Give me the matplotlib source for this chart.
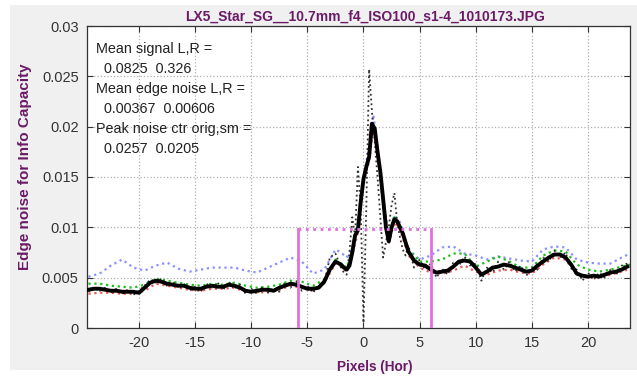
import numpy as np
import matplotlib
matplotlib.use("Agg")
import matplotlib.pyplot as plt
from matplotlib.patches import Rectangle

plt.rcParams['font.family'] = ['Liberation Sans', 'DejaVu Sans']

# ---------------- data ----------------
title = "LX5_Star_SG__10.7mm_f4_ISO100_s1-4_1010173.JPG"
xlabel = "Pixels (Hor)"
ylabel = "Edge noise for Info Capacity"
info_lines = ["Mean signal L,R =", "  0.0825  0.326",
              "Mean edge noise L,R =", "  0.00367  0.00606",
              "Peak noise ctr orig,sm =", "  0.0257  0.0205"]

# pixel positions for smoothed / original curves
x_fine = list(np.arange(-24.5, -1.9, 0.5)) + list(np.arange(-1.75, 3.8, 0.25)) + list(np.arange(4.0, 23.6, 0.5))

smoothed = [
    0.0038, 0.0039, 0.0039, 0.0038, 0.0037, 0.0037, 0.0036, 0.0036, 0.0036, 0.0035,
    0.0040, 0.0045, 0.0047, 0.0046, 0.0044, 0.0043, 0.0042, 0.0042, 0.0040, 0.0039,
    0.0039, 0.0041, 0.0042, 0.0041, 0.0041, 0.0043, 0.0042, 0.0040, 0.0037, 0.0036,
    0.0037, 0.0038, 0.0038, 0.0037, 0.0040, 0.0042, 0.0044, 0.0043, 0.0041, 0.0039,
    0.0039, 0.0040, 0.0046, 0.0058, 0.0066, 0.0063,
    0.0060, 0.0058, 0.0062, 0.0075, 0.0092, 0.0097, 0.0125, 0.0148, 0.0160, 0.0170,
    0.0203, 0.0198, 0.0175, 0.0155, 0.0128, 0.0100, 0.0086, 0.0100, 0.0108, 0.0106,
    0.0100, 0.0094, 0.0085,
    0.0076, 0.0067, 0.0063, 0.0062, 0.0058, 0.0055, 0.0056, 0.0057, 0.0061, 0.0066,
    0.0067, 0.0066, 0.0060, 0.0053, 0.0056, 0.0060, 0.0061, 0.0063, 0.0062, 0.0060,
    0.0058, 0.0056, 0.0057, 0.0062, 0.0066, 0.0070, 0.0073, 0.0073, 0.0070, 0.0063,
    0.0054, 0.0052, 0.0051, 0.0052, 0.0051, 0.0053, 0.0055, 0.0056, 0.0058, 0.0061,
]

original = [
    0.0036, 0.0041, 0.0037, 0.0040, 0.0035, 0.0039, 0.0034, 0.0038, 0.0033, 0.0037,
    0.0042, 0.0048, 0.0045, 0.0049, 0.0042, 0.0046, 0.0040, 0.0044, 0.0037, 0.0041,
    0.0036, 0.0044, 0.0040, 0.0045, 0.0038, 0.0046, 0.0039, 0.0043, 0.0034, 0.0039,
    0.0034, 0.0041, 0.0035, 0.0040, 0.0036, 0.0045, 0.0040, 0.0047, 0.0037, 0.0042,
    0.0035, 0.0043, 0.0044, 0.0070, 0.0074, 0.0060,
    0.0055, 0.0053, 0.0075, 0.0110, 0.0090, 0.0160, 0.0120, 0.0005, 0.0120, 0.0257,
    0.0215, 0.0185, 0.0150, 0.0110, 0.0070, 0.0085, 0.0100, 0.0122, 0.0134, 0.0105,
    0.0090, 0.0078, 0.0072,
    0.0082, 0.0060, 0.0068, 0.0058, 0.0064, 0.0050, 0.0059, 0.0053, 0.0065, 0.0062,
    0.0071, 0.0062, 0.0064, 0.0047, 0.0060, 0.0055, 0.0066, 0.0058, 0.0066, 0.0056,
    0.0062, 0.0052, 0.0060, 0.0058, 0.0070, 0.0066, 0.0077, 0.0070, 0.0075, 0.0059,
    0.0058, 0.0047, 0.0055, 0.0048, 0.0055, 0.0050, 0.0058, 0.0053, 0.0062, 0.0064,
]

# pixel positions for the coloured channel curves
x_chan = (list(np.arange(-24.5, -2.4, 1.0))
          + [-2.0, -1.5, -1.0, -0.5, 0.0, 0.5, 0.875, 1.25, 1.75, 2.25, 2.75, 3.25]
          + list(np.arange(4.0, 23.1, 1.0)) + [23.75])

blue = [
    0.0051, 0.0054, 0.0062, 0.0068, 0.0060, 0.0057, 0.0062, 0.0065, 0.0059, 0.0056,
    0.0058, 0.0060, 0.0060, 0.0060, 0.0057, 0.0055, 0.0060, 0.0065, 0.0070, 0.0066,
    0.0054, 0.0058, 0.0078,
    0.0075, 0.0070, 0.0080, 0.0105, 0.0150, 0.0180, 0.0212, 0.0180, 0.0130, 0.0090,
    0.0112, 0.0105,
    0.0078, 0.0068, 0.0072, 0.0080, 0.0081, 0.0074, 0.0072, 0.0068, 0.0071, 0.0069,
    0.0067, 0.0066, 0.0078, 0.0081, 0.0080, 0.0068, 0.0065, 0.0064, 0.0064, 0.0070,
    0.0074,
]

green = [
    0.0044, 0.0044, 0.0042, 0.0041, 0.0040, 0.0043, 0.0049, 0.0047, 0.0045, 0.0043,
    0.0042, 0.0044, 0.0043, 0.0045, 0.0042, 0.0040, 0.0041, 0.0043, 0.0047, 0.0046,
    0.0042, 0.0048, 0.0068,
    0.0064, 0.0060, 0.0078, 0.0100, 0.0150, 0.0172, 0.0203, 0.0175, 0.0128, 0.0088,
    0.0110, 0.0103,
    0.0078, 0.0066, 0.0066, 0.0068, 0.0074, 0.0074, 0.0061, 0.0066, 0.0071, 0.0066,
    0.0060, 0.0060, 0.0072, 0.0077, 0.0076, 0.0063, 0.0058, 0.0056, 0.0058, 0.0061,
    0.0063,
]

red = [
    0.0034, 0.0035, 0.0035, 0.0034, 0.0034, 0.0037, 0.0044, 0.0042, 0.0040, 0.0038,
    0.0037, 0.0039, 0.0039, 0.0040, 0.0036, 0.0035, 0.0036, 0.0038, 0.0042, 0.0040,
    0.0037, 0.0045, 0.0064,
    0.0061, 0.0056, 0.0073, 0.0095, 0.0145, 0.0166, 0.0198, 0.0172, 0.0125, 0.0084,
    0.0105, 0.0098,
    0.0072, 0.0060, 0.0055, 0.0054, 0.0057, 0.0062, 0.0056, 0.0053, 0.0057, 0.0058,
    0.0055, 0.0054, 0.0063, 0.0070, 0.0068, 0.0053, 0.0050, 0.0050, 0.0053, 0.0056,
    0.0059,
]

# region box (pixels, noise level)
box_x = [-5.85, 6.0]
box_top = 0.0098

x_ticks = [-20, -15, -10, -5, 0, 5, 10, 15, 20]
y_ticks = [0, 0.005, 0.01, 0.015, 0.02, 0.025, 0.03]
y_ticklabels = ["0", "0.005", "0.01", "0.015", "0.02", "0.025", "0.03"]

# ---------------- figure ----------------
W, H = 637, 377
fig = plt.figure(figsize=(W / 100, H / 100), dpi=100, facecolor='white')
fig.patches.append(Rectangle((10 / W, 7 / H), 1 - 10 / W, 1 - 12 / H,
                             transform=fig.transFigure, facecolor='#f0f0f0',
                             edgecolor='none', zorder=-10))
ax = fig.add_axes([87 / W, 1 - 328 / H, (630 - 87) / W, (328 - 26) / H])
ax.set_facecolor('white')

purple = '#6a1a66'
ax.plot(x_chan, blue, color='#8a90ff', ls=':', lw=1.6, zorder=2)
ax.plot(x_chan, green, color='#18c018', ls=':', lw=1.6, zorder=2)
ax.plot(x_chan, red, color='#f05858', ls=':', lw=1.6, zorder=2)
ax.plot(x_fine, original, color='#333333', ls=':', lw=1.3, zorder=3)
ax.plot(x_fine, smoothed, color='black', lw=2.8, zorder=4)

mag = '#e070e0'
ax.plot([box_x[0], box_x[0]], [0, box_top], color=mag, lw=2, zorder=5)
ax.plot([box_x[1], box_x[1]], [0, box_top], color=mag, lw=2, zorder=5)
ax.plot(box_x, [box_top, box_top], color=mag, lw=2, ls=':', zorder=5)

ax.set_xlim(-24.63, 23.74)
ax.set_ylim(0, 0.03)
ax.set_xticks(x_ticks)
ax.set_xticklabels([str(t) for t in x_ticks])
ax.set_yticks(y_ticks)
ax.set_yticklabels(y_ticklabels)
ax.tick_params(direction='in', top=True, right=True, length=4, width=0.8,
               labelsize=10.5, colors='#333333', pad=6)
ax.grid(True, color='#b0b0b0', ls=':', lw=0.9)
for s in ax.spines.values():
    s.set_color('#333333')
    s.set_linewidth(0.9)

fig.text(365 / W, 1 - 17 / H, title, color=purple, fontsize=10,
         fontweight='bold', ha='center', va='center')
fig.text(375 / W, 1 - 367 / H, xlabel, color=purple, fontsize=9.8,
         fontweight='bold', ha='center', va='center')
fig.text(25 / W, 1 - 167 / H, ylabel, color=purple, fontsize=11,
         fontweight='bold', ha='center', va='center', rotation=90)

for i, line in enumerate(info_lines):
    ax.text(0.0165, 1 - (49 - 26 + 20 * i) / (328 - 26), line,
            transform=ax.transAxes, fontsize=10.4, va='center', ha='left',
            color='#222222', zorder=6)

fig.savefig('out.png', dpi=100, facecolor=fig.get_facecolor())
